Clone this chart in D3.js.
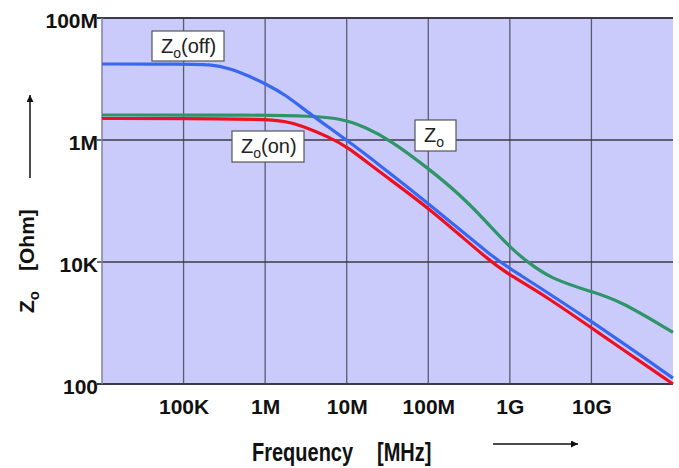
<!DOCTYPE html>
<html>
<head>
<meta charset="utf-8">
<script src="https://cdn.jsdelivr.net/npm/d3@7"></script>
<style>
  body { margin: 0; background: #fff; }
  svg { display: block; font-family: "Liberation Sans", Arial, sans-serif; }
</style>
</head>
<body>
<svg id="chart" width="679" height="468"></svg>
<script>
// tick values / labels
var xTicks = [1e5, 1e6, 1e7, 1e8, 1e9, 1e10];
var xTickLabels = ["100K", "1M", "10M", "100M", "1G", "10G"];
var yTicks = [1e2, 1e4, 1e6, 1e8];
var yTickLabels = ["100", "10K", "1M", "100M"];

// Zo(off) - blue
var freqOff = [1e4, 1e5, 2.1e5, 3.7e5, 6.5e5, 1e6, 1.75e6, 3.5e6, 1e7, 2.55e7, 1e8, 6.9e8, 1e9, 1e10, 1e11];
var zOff    = [1.76e7, 1.76e7, 1.74e7, 1.5e7, 1.1e7, 8.4e6, 5.6e6, 2.7e6, 1.0e6, 3.85e5, 9.2e4, 1.06e4, 7.9e3, 1.08e3, 125];

// Zo(on) - red
var freqOn = [1e4, 1e5, 1e6, 1.75e6, 2.7e6, 6.2e6, 1e7, 2.55e7, 1e8, 5.7e8, 1e9, 2.85e9, 1e10, 1e11];
var zOn    = [2.25e6, 2.25e6, 2.2e6, 2.03e6, 1.76e6, 1.1e6, 7.9e5, 2.95e5, 7.9e4, 1.02e4, 6.1e3, 2.67e3, 830, 100];

// Zo - green
var freqZo = [1e4, 1e6, 3.5e6, 8.3e6, 1.7e7, 3.4e7, 1e8, 3e8, 1e9, 1.66e9, 3.1e9, 1e10, 2.2e10, 1e11];
var zZo    = [2.57e6, 2.57e6, 2.47e6, 2.28e6, 1.63e6, 1e6, 3.45e5, 1.02e5, 1.7e4, 1e4, 5.4e3, 3.25e3, 2.35e3, 700];

var svg = d3.select("#chart");

var x = d3.scaleLog().domain([1e4, 1e11]).range([102, 673]);
var y = d3.scaleLog().domain([1e2, 1e8]).range([384, 18]);

// plot background
svg.append("rect")
    .attr("x", x.range()[0]).attr("y", y.range()[1])
    .attr("width", x.range()[1] - x.range()[0])
    .attr("height", y.range()[0] - y.range()[1])
    .attr("fill", "#cbcbfb");

// grid
svg.append("g").selectAll("line").data(xTicks).join("line")
    .attr("x1", d => x(d)).attr("x2", d => x(d))
    .attr("y1", y.range()[1]).attr("y2", y.range()[0])
    .attr("stroke", "#5a5a70").attr("stroke-width", 1.3);

svg.append("g").selectAll("line").data(yTicks).join("line")
    .attr("x1", x.range()[0] - 5).attr("x2", x.range()[1])
    .attr("y1", d => y(d)).attr("y2", d => y(d))
    .attr("stroke", "#3a3a48").attr("stroke-width", d => (d == 1e2 || d == 1e8) ? 2 : 1.6);

// left edge
svg.append("line")
    .attr("x1", x.range()[0]).attr("x2", x.range()[0])
    .attr("y1", y.range()[1]).attr("y2", y.range()[0])
    .attr("stroke", "#8080a0").attr("stroke-width", 1.5);

// axes (labels only)
var xAxis = d3.axisBottom(x).tickValues(xTicks)
    .tickFormat((d, i) => xTickLabels[i]).tickSize(0).tickPadding(15);
svg.append("g").attr("transform", "translate(0," + y.range()[0] + ")")
    .call(xAxis)
    .call(g => g.select(".domain").remove())
    .selectAll("text")
    .attr("font-size", 21).attr("font-weight", "bold").attr("fill", "#111")
    .attr("font-family", "'Liberation Sans', Arial, sans-serif");

var yAxis = d3.axisLeft(y).tickValues(yTicks)
    .tickFormat((d, i) => yTickLabels[i]).tickSize(0).tickPadding(4);
svg.append("g").attr("transform", "translate(" + x.range()[0] + ",0)")
    .call(yAxis)
    .call(g => g.select(".domain").remove())
    .selectAll("text")
    .attr("dy", "0.47em")
    .attr("font-size", 21).attr("font-weight", "bold").attr("fill", "#111")
    .attr("font-family", "'Liberation Sans', Arial, sans-serif");

// curves
var line = d3.line()
    .x(d => x(d[0])).y(d => y(d[1]))
    .curve(d3.curveBasis);

var series = [
    {f: freqZo, z: zZo, color: "#2f9467"},
    {f: freqOn, z: zOn, color: "#ee1020"},
    {f: freqOff, z: zOff, color: "#3868f0"}
];

svg.append("g").selectAll("path").data(series).join("path")
    .attr("d", s => line(s.f.map((f, i) => [f, s.z[i]])))
    .attr("fill", "none")
    .attr("stroke", s => s.color)
    .attr("stroke-width", 3.2)
    .attr("stroke-linejoin", "round");

// label boxes
function labelBox(left, top, w, h, suffix) {
    var g = svg.append("g").attr("transform", "translate(" + left + "," + top + ")");
    g.append("rect").attr("width", w).attr("height", h)
        .attr("fill", "#fff").attr("stroke", "#555").attr("stroke-width", 1.2);
    var t = g.append("text").attr("x", 9).attr("y", 22)
        .attr("font-size", 20).attr("fill", "#222");
    t.append("tspan").text("Z");
    t.append("tspan").attr("font-size", 14).attr("dy", 5).text("o");
    if (suffix) t.append("tspan").attr("dy", -5).text(suffix);
}
labelBox(152, 31, 72, 30, "(off)");
labelBox(232, 131, 72, 31, "(on)");
labelBox(415, 120, 41, 31, null);

// y title
var yt = svg.append("text")
    .attr("transform", "translate(34,313) rotate(-90)")
    .attr("font-size", 21).attr("font-weight", "bold").attr("fill", "#111");
yt.append("tspan").text("Z");
yt.append("tspan").attr("font-size", 15).attr("dy", 5).text("o");
yt.append("tspan").attr("dy", -5).attr("dx", 20).text("[Ohm]");

// x title
svg.append("text").attr("transform", "translate(252,461) scale(0.8,1)")
    .attr("font-size", 25).attr("font-weight", "bold").attr("fill", "#111")
    .text("Frequency");
svg.append("text").attr("transform", "translate(377,461) scale(0.8,1)")
    .attr("font-size", 25).attr("font-weight", "bold").attr("fill", "#111")
    .text("[MHz]");

// arrows
svg.append("defs").append("marker")
    .attr("id", "arr").attr("viewBox", "0 0 10 10")
    .attr("refX", 10).attr("refY", 5)
    .attr("markerWidth", 9).attr("markerHeight", 7)
    .attr("markerUnits", "userSpaceOnUse")
    .attr("orient", "auto")
    .append("path").attr("d", "M0,0L10,5L0,10Z").attr("fill", "#111");

svg.append("line").attr("x1", 30).attr("x2", 30).attr("y1", 178).attr("y2", 95)
    .attr("stroke", "#111").attr("stroke-width", 1.5).attr("marker-end", "url(#arr)");
svg.append("line").attr("x1", 493).attr("x2", 578).attr("y1", 444).attr("y2", 444)
    .attr("stroke", "#111").attr("stroke-width", 1.5).attr("marker-end", "url(#arr)");
</script>
</body>
</html>
